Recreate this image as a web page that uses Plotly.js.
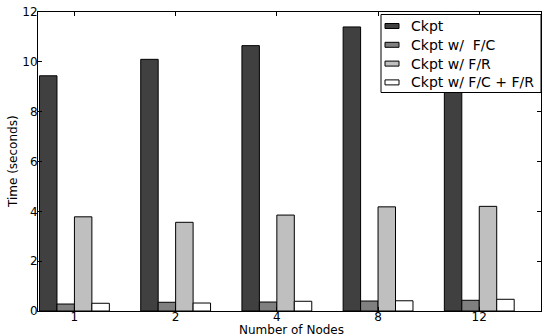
<!DOCTYPE html>
<html><head><meta charset="utf-8">
<script src="https://cdn.plot.ly/plotly-3.0.1.min.js"></script>
<style>html,body{margin:0;padding:0;background:#fff}#chart{width:542px;height:336px}</style>
</head><body><div id="chart"></div>
<script>
const categories = ['1', '2', '4', '8', '12'];
const seriesNames = ['Ckpt', 'Ckpt w/  F/C', 'Ckpt w/ F/R', 'Ckpt w/ F/C + F/R'];
const ckpt = [9.44, 10.1, 10.65, 11.4, 11.9];
const ckptFC = [0.28, 0.35, 0.36, 0.40, 0.43];
const ckptFR = [3.78, 3.56, 3.85, 4.18, 4.2];
const ckptFCFR = [0.31, 0.32, 0.39, 0.41, 0.47];
const colors = ['#404040', '#808080', '#bfbfbf', '#ffffff'];
const allSeries = [ckpt, ckptFC, ckptFR, ckptFCFR];

const W = 542, H = 336;
const M = {l: 38, r: 1, t: 12, b: 25};
const PW = W - M.l - M.r, PH = H - M.t - M.b;
const px = x => (x - M.l) / PW;          // pixel x -> paper
const py = y => (H - M.b - y) / PH;      // pixel y -> paper

const traces = allSeries.map((vals, i) => ({
  type: 'bar',
  name: seriesNames[i],
  x: categories,
  y: vals,
  showlegend: false,
  marker: {color: colors[i], line: {color: '#000', width: 1}}
}));

const font = {family: 'DejaVu Sans, sans-serif', size: 12, color: '#000'};
const legFont = {family: 'DejaVu Sans, sans-serif', size: 14, color: '#000'};

// custom legend (matplotlib style)
const shapes = [{
  type: 'rect', xref: 'paper', yref: 'paper', layer: 'above',
  x0: px(381), x1: px(541), y0: py(92.5), y1: py(14.5),
  fillcolor: '#fff', line: {color: '#000', width: 1}
}];
const annotations = [];
seriesNames.forEach((name, i) => {
  const yc = 26 + i * 18.8;
  shapes.push({
    type: 'rect', xref: 'paper', yref: 'paper', layer: 'above',
    x0: px(385), x1: px(399), y0: py(yc + 2.5), y1: py(yc - 2.5),
    fillcolor: colors[i], line: {color: '#000', width: 1}
  });
  annotations.push({
    xref: 'paper', yref: 'paper', x: px(409), y: py(yc),
    xanchor: 'left', yanchor: 'middle', showarrow: false,
    text: name.replace(/  /g, ' &nbsp;'), font: legFont
  });
});
annotations.push({
  xref: 'paper', yref: 'paper', x: px(291), y: py(329.5),
  xanchor: 'center', yanchor: 'middle', showarrow: false, borderpad: 0,
  text: 'Number of Nodes', font: font
});
annotations.push({
  xref: 'paper', yref: 'paper', x: px(13), y: py(162),
  xanchor: 'center', yanchor: 'middle', showarrow: false, textangle: -90,
  text: 'Time (seconds)', font: font
});

const layout = {
  width: W, height: H,
  margin: M,
  paper_bgcolor: '#fff', plot_bgcolor: '#fff',
  font: font,
  barmode: 'group', bargap: 0.31, bargroupgap: 0,
  showlegend: false,
  shapes: shapes,
  annotations: annotations,
  xaxis: {
    type: 'category', range: [-0.36, 4.61],
    showline: true, linecolor: '#000', linewidth: 1, mirror: 'ticks',
    ticks: 'inside', ticklen: 4, tickcolor: '#000',
    showgrid: false, zeroline: false,
    tickfont: font, automargin: false, ticklabelstandoff: -5
  },
  yaxis: {
    range: [0, 12], dtick: 2, tick0: 0,
    showline: true, linecolor: '#000', linewidth: 1, mirror: 'ticks',
    ticks: 'inside', ticklen: 4, tickcolor: '#000',
    showgrid: false, zeroline: false,
    tickfont: font, automargin: false, ticklabelstandoff: -3
  }
};
Plotly.newPlot('chart', traces, layout, {displayModeBar: false, staticPlot: true});
</script>
</body></html>
